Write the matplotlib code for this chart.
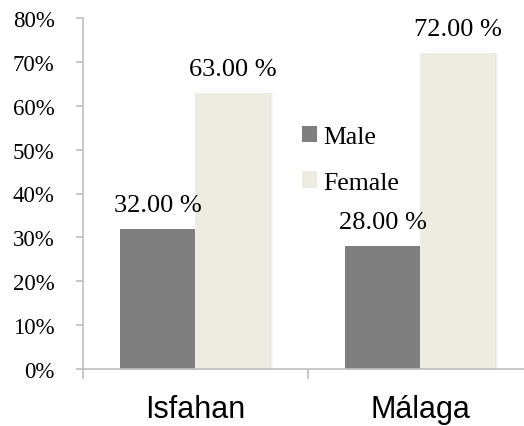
import matplotlib.pyplot as plt
import numpy as np
from matplotlib.ticker import FixedLocator, PercentFormatter

# Share of respondents by city and gender
cities = ["Isfahan", "Málaga"]
male = [32.0, 28.0]
female = [63.0, 72.0]

MALE_COLOR = "#7f7f7f"
FEMALE_COLOR = "#eeebe0"
AXIS_COLOR = "#bebebe"
SERIF = "Liberation Serif"

fig = plt.figure(figsize=(5.24, 4.27), dpi=100)
# axes spans one category more to the right than the canvas shows
ax = fig.add_axes([82.5 / 524, 57 / 427, 450 / 524, 351 / 427])

x = np.arange(len(cities))
width = 1 / 3

# soft shadow to the right of each bar
for xs, vals in ((x - width / 2, male), (x + width / 2, female)):
    for k in range(3):
        ax.bar(xs + 0.004 * (k + 1), vals, width, color="#000000",
               alpha=0.035, zorder=1, linewidth=0)

bars_m = ax.bar(x - width / 2, male, width, color=MALE_COLOR, label="Male", zorder=2)
bars_f = ax.bar(x + width / 2, female, width, color=FEMALE_COLOR, label="Female", zorder=2)

for bars, vals in ((bars_m, male), (bars_f, female)):
    for b, v in zip(bars, vals):
        ax.annotate(f"{v:.2f} %", (b.get_x() + b.get_width() / 2, v),
                    xytext=(0, 13), textcoords="offset points",
                    ha="center", va="baseline", fontsize=19, family=SERIF)

ax.set_xlim(-0.5, 1.5)
ax.set_ylim(0, 80)
ax.yaxis.set_major_locator(FixedLocator(np.arange(0, 81, 10)))
ax.yaxis.set_major_formatter(PercentFormatter(decimals=0))

ax.set_xticks(x)
ax.set_xticklabels(cities, fontsize=22, family="Liberation Sans")
ax.tick_params(axis="x", which="major", length=0, pad=18)
ax.xaxis.set_minor_locator(FixedLocator([-0.5, 0.5, 1.5]))
ax.tick_params(axis="x", which="minor", length=7, width=1.2, color=AXIS_COLOR)
ax.tick_params(axis="y", length=5, width=1.2, color=AXIS_COLOR, pad=15)
for lbl in ax.get_yticklabels():
    lbl.set_family(SERIF)
    lbl.set_fontsize(16.5)

for side in ("top", "right"):
    ax.spines[side].set_visible(False)
for side in ("left", "bottom"):
    ax.spines[side].set_color(AXIS_COLOR)
    ax.spines[side].set_linewidth(1.2)

leg = ax.legend(loc="upper left", bbox_to_anchor=(219 / 450, 243 / 351),
                frameon=False, prop={"family": SERIF, "size": 18.5},
                handlelength=0.6, handleheight=0.6, handletextpad=0.25,
                labelspacing=0.9, borderaxespad=0, borderpad=0)

fig.savefig("out.png", dpi=100)
